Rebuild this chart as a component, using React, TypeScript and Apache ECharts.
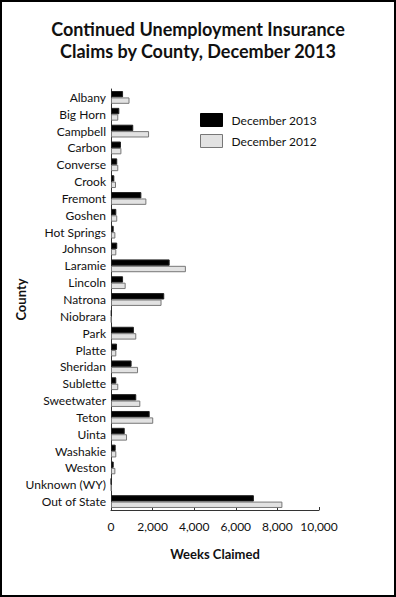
import React, { useEffect, useRef } from "react";
import * as echarts from "echarts";

const counties = [
  "Albany", "Big Horn", "Campbell", "Carbon", "Converse", "Crook", "Fremont", "Goshen",
  "Hot Springs", "Johnson", "Laramie", "Lincoln", "Natrona", "Niobrara", "Park", "Platte",
  "Sheridan", "Sublette", "Sweetwater", "Teton", "Uinta", "Washakie", "Weston",
  "Unknown (WY)", "Out of State",
];
const dec2013 = [
  580, 400, 1070, 480, 300, 160, 1460, 255,
  130, 300, 2820, 580, 2560, 30, 1100, 290,
  990, 255, 1215, 1860, 660, 225, 130,
  10, 6870,
];
const dec2012 = [
  890, 350, 1830, 500, 350, 240, 1700, 300,
  210, 255, 3600, 705, 2430, 20, 1215, 255,
  1300, 350, 1410, 2030, 770, 255, 210,
  20, 8240,
];
const xTicks = { min: 0, max: 10000, interval: 2000 };

const FONT = "Lato, 'Open Sans', sans-serif";

export default function App() {
  const ref = useRef<HTMLDivElement>(null);
  useEffect(() => {
    document.body.style.margin = "0";
    const chart = echarts.init(ref.current!, null, { renderer: "svg" });
    chart.setOption({
      animation: false,
      backgroundColor: "#fff",
      textStyle: { fontFamily: FONT },
      title: {
        text: "Continued Unemployment Insurance\nClaims by County, December 2013",
        left: "center",
        top: 13,
        textStyle: { fontFamily: FONT, fontWeight: "bold", fontSize: 18, lineHeight: 22, color: "#111" },
      },
      graphic: [
        { type: "rect", shape: { x: 1, y: 1, width: 394, height: 595 }, style: { fill: "none", stroke: "#000", lineWidth: 2 } },
      ],
      legend: {
        orient: "vertical",
        left: 195,
        top: 108,
        icon: "rect",
        itemWidth: 22,
        itemHeight: 13,
        itemGap: 7,
        textStyle: { fontFamily: FONT, fontSize: 12, color: "#111", padding: [0, 0, 0, 4] },
        data: [
          { name: "December 2013", itemStyle: { color: "#000", borderColor: "#000", borderWidth: 1 } },
          { name: "December 2012", itemStyle: { color: "#e2e2e2", borderColor: "#777", borderWidth: 1 } },
        ],
      },
      grid: { left: 111, right: 77, top: 89, bottom: 87, containLabel: false, outerBoundsMode: "none" },
      xAxis: {
        type: "value",
        min: xTicks.min,
        max: xTicks.max,
        interval: xTicks.interval,
        name: "Weeks Claimed",
        nameLocation: "middle",
        nameGap: 37,
        nameMoveOverlap: false,
        nameTextStyle: { fontFamily: FONT, fontWeight: "bold", fontSize: 13, color: "#111" },
        axisLine: { show: true, lineStyle: { color: "#333", width: 1 } },
        axisTick: { show: true, inside: true, length: 3, lineStyle: { color: "#333" } },
        splitLine: { show: false },
        axisLabel: {
          fontFamily: FONT, fontSize: 12, color: "#111", margin: 10,
          formatter: (v: number) => v.toLocaleString("en-US"),
        },
      },
      yAxis: {
        type: "category",
        data: counties,
        inverse: true,
        name: "County",
        nameLocation: "middle",
        nameGap: 84,
        nameMoveOverlap: false,
        nameRotate: 90,
        nameTextStyle: { fontFamily: FONT, fontWeight: "bold", fontSize: 13, color: "#111" },
        axisLine: { show: true, lineStyle: { color: "#333", width: 1 } },
        axisTick: { show: false },
        axisLabel: { fontFamily: FONT, fontSize: 12, color: "#111", margin: 5 },
      },
      series: [
        {
          name: "December 2013",
          type: "bar",
          data: dec2013,
          barGap: "0%",
          barCategoryGap: "24%",
          itemStyle: { color: "#000", borderColor: "#222", borderWidth: 1 },
        },
        {
          name: "December 2012",
          type: "bar",
          data: dec2012,
          itemStyle: { color: "#e2e2e2", borderColor: "#777", borderWidth: 1 },
        },
      ],
    });
    return () => chart.dispose();
  }, []);
  return <div ref={ref} style={{ width: 396, height: 597 }} />;
}
